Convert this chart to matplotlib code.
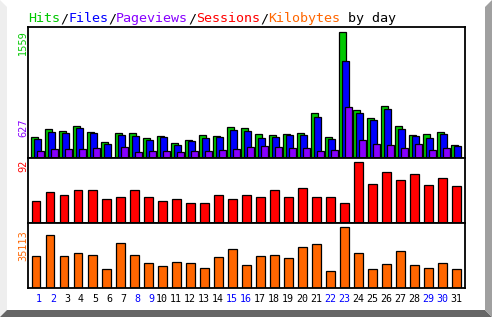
import numpy as np
import matplotlib
matplotlib.use("Agg")
import matplotlib.pyplot as plt
from matplotlib.patches import Polygon
import matplotlib.transforms as mtransforms

# daily stats
days = list(range(1, 32))
hits = [256, 355, 330, 392, 318, 194, 305, 305, 244, 268, 182, 219, 280, 268, 380, 367,
        293, 280, 293, 305, 553, 256, 1559, 590, 491, 639, 392, 280, 293, 318, 157]
files = [231, 318, 305, 367, 305, 169, 280, 268, 219, 256, 157, 207, 244, 256, 343, 330,
         244, 256, 280, 280, 503, 231, 1196, 553, 466, 602, 355, 268, 244, 293, 145]
pages = [83, 107, 107, 107, 120, 0, 132, 70, 83, 83, 70, 83, 83, 95, 107, 132,
         145, 132, 120, 120, 83, 95, 627, 219, 169, 157, 120, 169, 95, 120, 0]
sessions = [34, 47, 43, 50, 50, 37, 39, 50, 39, 34, 37, 31, 31, 42, 36, 42,
            40, 50, 39, 53, 40, 39, 31, 92, 59, 78, 65, 74, 57, 68, 56]
kbytes = [18340, 30490, 18340, 20070, 18920, 10820, 25860, 18920, 14290, 12550, 14870,
          14290, 11400, 17760, 22390, 13130, 18340, 18920, 17180, 23540, 25280, 9660,
          35113, 20070, 10820, 13710, 21230, 13130, 11400, 14290, 10820]
weekend = [1, 2, 8, 9, 15, 16, 22, 23, 29, 30]

GREEN, BLUE, PURPLE, RED, ORANGE = "#00c800", "#0000ff", "#8800ff", "#ff0000", "#ff6600"

W, H = 492, 317
fig = plt.figure(figsize=(W / 100, H / 100), dpi=100)
fig.patch.set_facecolor("white")


def fx(px):
    return px / W


def fy(py):
    return 1 - py / H


# 3d-ish frame
fig.patches.append(Polygon([(0, 1), (fx(7), fy(7)), (fx(7), fy(310)), (0, 0)],
                           closed=True, transform=fig.transFigure, fc="#eeeeee", ec="none"))
fig.patches.append(Polygon([(0, 0), (fx(7), fy(310)), (fx(485), fy(310)), (1, 0)],
                           closed=True, transform=fig.transFigure, fc="#666666", ec="none"))
fig.patches.append(Polygon([(1, 1), (fx(485), fy(7)), (fx(485), fy(310)), (1, 0)],
                           closed=True, transform=fig.transFigure, fc="#a0a0a0", ec="none"))

L, R = 28, 465
slot = 14.01
xmax = (R - L) / slot


def make_ax(top, bottom, ymax):
    ax = fig.add_axes([fx(L), fy(bottom), fx(R - L), (bottom - top) / H])
    ax.set_xlim(0, xmax)
    ax.set_ylim(0, ymax)
    ax.set_xticks([])
    ax.set_yticks([])
    for s in ax.spines.values():
        s.set_linewidth(1.3)
    return ax


x0 = np.array(days) - 1

ax1 = make_ax(27, 158, 1559 * 131 / 126)
kw = dict(width=0.5, align="edge", edgecolor="black", linewidth=0.9)
ax1.bar(x0 + 0.21, hits, color=GREEN, **kw)
ax1.bar(x0 + 0.43, files, color=BLUE, **kw)
ax1.bar(x0 + 0.62, pages, color=PURPLE, **kw)

ax2 = make_ax(158, 223, 92 * 65 / 60.7)
ax2.bar(x0 + 0.29, sessions, width=0.6, align="edge", color=RED, edgecolor="black", linewidth=0.9)

ax3 = make_ax(223, 288, 35113 * 65 / 60.7)
ax3.bar(x0 + 0.29, kbytes, width=0.6, align="edge", color=ORANGE, edgecolor="black", linewidth=0.9)

# title, one coloured piece at a time
mono = "DejaVu Sans Mono"
parts = [("Hits", GREEN), ("/", "black"), ("Files", BLUE), ("/", "black"),
         ("Pageviews", PURPLE), ("/", "black"), ("Sessions", RED), ("/", "black"),
         ("Kilobytes", ORANGE), (" by day", "black")]
n = 0
for txt, col in parts:
    fig.text(fx(28 + n * 8), fy(18.5), txt, color=col, family=mono, fontsize=9.6,
             ha="left", va="center")
    n += len(txt)

# side labels
for txt, col, top in [("1559", GREEN, 30), ("627", PURPLE, 118),
                      ("92", RED, 160), ("35113", ORANGE, 230)]:
    fig.text(fx(23), fy(top), txt, color=col, family="DejaVu Sans", fontsize=7,
             rotation=90, ha="center", va="top")

# day numbers
trans = mtransforms.blended_transform_factory(ax3.transData, fig.transFigure)
for d in days:
    ax3.text(d, fy(299), str(d), transform=trans, family=mono, fontsize=7.2,
             color=BLUE if d in weekend else "black", ha="right", va="center",
             clip_on=False)

fig.savefig("out.png", dpi=100)
